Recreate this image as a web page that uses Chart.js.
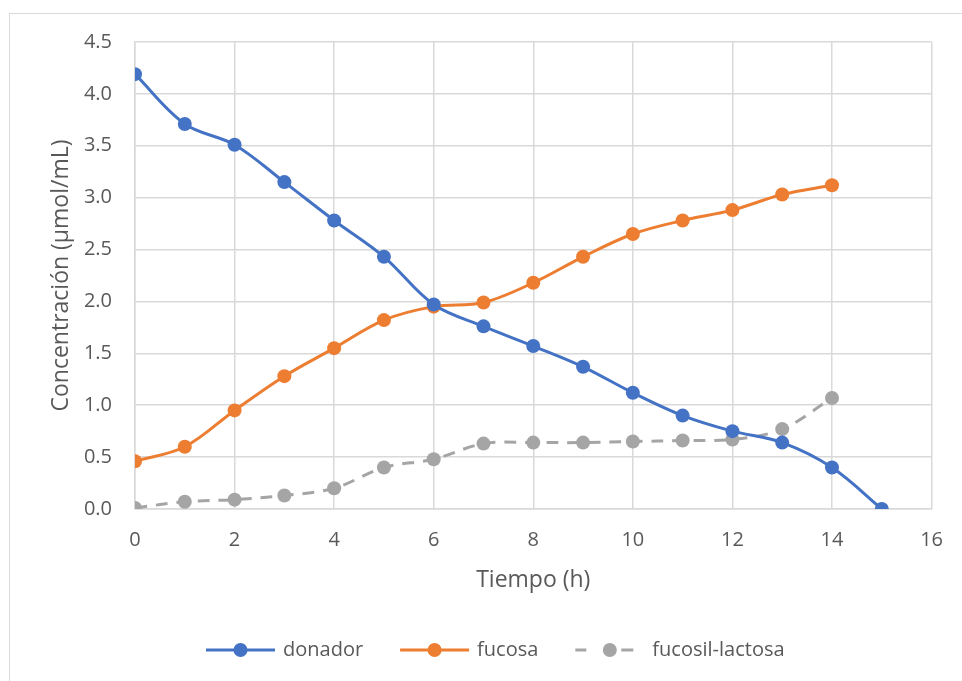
<!DOCTYPE html>
<html>
<head>
<meta charset="utf-8">
<script src="https://cdn.jsdelivr.net/npm/chart.js@4/dist/chart.umd.min.js"></script>
<style>
  html, body { margin: 0; padding: 0; background: #ffffff; overflow: hidden; width: 962px; height: 681px; }
  #frame { position: absolute; left: 9px; top: 13px; width: 1200px; height: 1200px; border: 1.5px solid #d9d9d9; box-sizing: border-box; }
  #wrap { position: absolute; left: 0; top: 0; width: 962px; height: 681px; }
</style>
</head>
<body>
<div id="frame"></div>
<div id="wrap"><canvas id="c" width="962" height="681"></canvas></div>
<script>
// ---- data ----
const tiempo = [0, 1, 2, 3, 4, 5, 6, 7, 8, 9, 10, 11, 12, 13, 14, 15];
const donador = [4.19, 3.71, 3.51, 3.15, 2.78, 2.43, 1.97, 1.76, 1.57, 1.37, 1.12, 0.90, 0.75, 0.64, 0.40, 0.00];
const fucosa = [0.46, 0.60, 0.95, 1.28, 1.55, 1.82, 1.95, 1.99, 2.18, 2.43, 2.65, 2.78, 2.88, 3.03, 3.12];
const fucosilLactosa = [0.01, 0.07, 0.09, 0.13, 0.20, 0.40, 0.48, 0.63, 0.64, 0.64, 0.65, 0.66, 0.67, 0.77, 1.07];
const seriesNames = ['donador', 'fucosa', 'fucosil-lactosa'];
const xTickValues = [0, 2, 4, 6, 8, 10, 12, 14, 16];
const yTickValues = [0, 0.5, 1, 1.5, 2, 2.5, 3, 3.5, 4, 4.5];
const xTitle = 'Tiempo (h)';
const yTitle = 'Concentración (µmol/mL)';

function toPoints(ys) { return ys.map((y, i) => ({ x: tiempo[i], y: y })); }

const FONT = "'Open Sans', 'DejaVu Sans', sans-serif";
const TEXT = '#595959';
const GRID = '#d9d9d9';
const colors = ['#4472C4', '#ED7D31', '#A5A5A5'];
const dashes = [[], [], [12, 9]];
const legendDashes = [[], [], [11, 35, 12, 100]];

const datasets = [donador, fucosa, fucosilLactosa].map((vals, i) => ({
  label: seriesNames[i],
  data: toPoints(vals),
  borderColor: colors[i],
  backgroundColor: colors[i],
  pointBackgroundColor: colors[i],
  pointBorderColor: colors[i],
  pointRadius: 7,
  pointHoverRadius: 7,
  pointBorderWidth: 0,
  borderWidth: 3,
  borderDash: dashes[i],
  legendDash: legendDashes[i],
  tension: 0.35,
  fill: false
}));

const legendPlugin = {
  id: 'excelLegend',
  afterDraw(chart) {
    const ctx = chart.ctx;
    const y = 650;
    let x = 206;
    const lineLen = 69;
    ctx.save();
    ctx.font = '20px ' + FONT;
    ctx.textBaseline = 'middle';
    ctx.textAlign = 'left';
    chart.data.datasets.forEach((ds) => {
      ctx.save();
      ctx.strokeStyle = ds.borderColor;
      ctx.lineWidth = 3;
      ctx.setLineDash(ds.legendDash || []);
      ctx.beginPath();
      ctx.moveTo(x, y);
      ctx.lineTo(x + lineLen, y);
      ctx.stroke();
      ctx.setLineDash([]);
      ctx.fillStyle = ds.backgroundColor;
      ctx.beginPath();
      ctx.arc(x + lineLen / 2, y, 7, 0, Math.PI * 2);
      ctx.fill();
      ctx.restore();
      ctx.fillStyle = TEXT;
      const tx = x + lineLen + 8;
      ctx.fillText(ds.label, tx, y);
      x = tx + ctx.measureText(ds.label).width + 37;
    });
    ctx.restore();
  }
};

new Chart(document.getElementById('c'), {
  type: 'line',
  data: { datasets: datasets },
  plugins: [legendPlugin],
  options: {
    responsive: false,
    animation: false,
    events: [],
    layout: { padding: { left: 48, top: 42, right: 26, bottom: 87 } },
    plugins: { legend: { display: false }, tooltip: { enabled: false }, title: { display: false } },
    scales: {
      x: {
        type: 'linear',
        min: 0, max: 16,
        afterBuildTicks(scale) { scale.ticks = xTickValues.map(v => ({ value: v })); },
        afterFit(scale) { scale.height = 85; },
        grid: { color: GRID, lineWidth: 1.5, drawTicks: false },
        border: { color: GRID, width: 1.5 },
        ticks: { padding: 19, color: TEXT, font: { family: FONT, size: 20 }, maxRotation: 0, autoSkip: false, callback: v => String(v) },
        title: { display: true, text: xTitle, color: TEXT, font: { family: FONT, size: 23 }, padding: 0 }
      },
      y: {
        type: 'linear',
        min: 0, max: 4.5,
        afterBuildTicks(scale) { scale.ticks = yTickValues.map(v => ({ value: v })); },
        afterFit(scale) { scale.width = 87; },
        grid: { color: GRID, lineWidth: 1.5, drawTicks: false },
        border: { color: GRID, width: 1.5 },
        ticks: { padding: 23, color: TEXT, font: { family: FONT, size: 20 }, autoSkip: false, callback: v => Number(v).toFixed(1) },
        title: { display: true, text: yTitle, color: TEXT, font: { family: FONT, size: 23 }, padding: 0 }
      }
    }
  }
});
</script>
</body>
</html>
